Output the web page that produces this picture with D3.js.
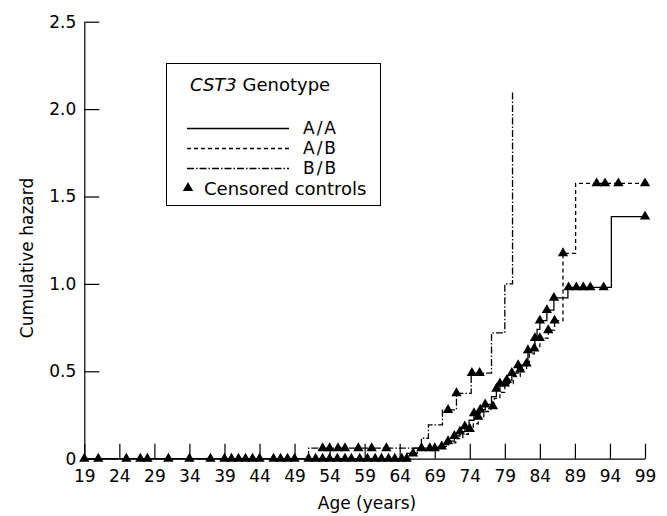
<!DOCTYPE html>
<html>
<head>
<meta charset="utf-8">
<script src="https://cdn.jsdelivr.net/npm/d3@7"></script>
<style>
  body { margin: 0; background: white; }
  text { font-family: "DejaVu Sans", sans-serif; }
</style>
</head>
<body>
<main></main>
<script>
// tick labels
const ageTicks = [19, 24, 29, 34, 39, 44, 49, 54, 59, 64, 69, 74, 79, 84, 89, 94, 99]
const hazardTicks = [0, 0.5, 1.0, 1.5, 2.0, 2.5]
const genotypes = ["A/A", "A/B", "B/B"]

// step curves: age where the step happens, cumulative hazard after it
const aaAge = [19, 65.0, 66.0, 70.0, 70.9, 71.8, 72.6, 73.3, 73.9, 74.6, 75.5, 76.2, 77.1, 77.8, 78.3, 79.3, 80.0, 80.9, 81.9, 82.3, 83.3, 83.6, 84.0, 85.0, 86.0, 88.0, 94.2, 99]
const aaHazard = [0, 0.03, 0.06, 0.08, 0.10, 0.13, 0.155, 0.185, 0.22, 0.26, 0.28, 0.31, 0.355, 0.40, 0.43, 0.45, 0.49, 0.535, 0.555, 0.62, 0.69, 0.74, 0.79, 0.85, 0.92, 0.98, 1.385, 1.385]

const abAge = [19, 65.5, 66.5, 69.5, 71.0, 72.0, 73.0, 73.8, 74.5, 75.2, 76.0, 77.0, 77.5, 78.3, 79.0, 80.2, 81.2, 82.1, 82.5, 83.2, 84.0, 85.2, 86.1, 87.3, 89.1, 99]
const abHazard = [0, 0.03, 0.05, 0.07, 0.09, 0.115, 0.14, 0.17, 0.2, 0.24, 0.27, 0.3, 0.345, 0.38, 0.43, 0.47, 0.51, 0.545, 0.6, 0.63, 0.69, 0.735, 0.79, 1.175, 1.575, 1.575]

const bbAge = [19, 51.0, 67.1, 68.1, 70.1, 72.1, 74.2, 77.1, 79.0, 80.1]
const bbHazard = [0, 0.06, 0.117, 0.193, 0.279, 0.374, 0.49, 0.72, 1.0, 2.1]

// censored controls (ages), drawn on their genotype's curve
const aaCensored = [19, 21, 25, 27, 28, 31, 34, 37, 39, 40, 41, 42, 43, 44, 46, 47, 48, 49, 51, 52, 55.1, 57.1, 59.4, 61.4, 63.3, 65.9, 67.1, 68.3, 69, 70.9, 71.8, 72.6, 73.3, 74.6, 75.5, 76.2, 77.8, 78.3, 79.3, 80.0, 80.9, 82.3, 83.3, 84, 85, 86.0, 88.1, 89.2, 90.2, 91.2, 93.1, 99]
const abCensored = [53, 54, 56.2, 58.3, 60.5, 62.4, 64.3, 65.0, 70, 74, 75.2, 77.3, 79.0, 81.2, 82.1, 83.2, 84.0, 85.2, 86.1, 87.3, 92.1, 93.3, 95.2, 99]
const bbCensored = [53, 54, 55.2, 56.2, 58.1, 60, 62.1, 70.9, 72.1, 74.3, 75.4]

//set dimensions
const svgWidth = 667
const svgHeight = 516
const plotLeft = 84.3, plotRight = 645
const plotTop = 21.7, plotBottom = 458.7

let svg = d3.select("main")
    .append("svg")
    .attr("width", svgWidth)
    .attr("height", svgHeight)

let xScale = d3.scaleLinear().domain([19, 99]).range([plotLeft, plotRight])
let yScale = d3.scaleLinear().domain([0, 2.5]).range([plotBottom, plotTop])

//axes, ticks point inwards
let xAxis = svg.append("g")
    .attr("transform", `translate(0, ${plotBottom})`)
    .call(d3.axisBottom(xScale).tickValues(ageTicks).tickSize(-15).tickSizeOuter(0).tickPadding(11).tickFormat(d3.format("d")))

let yAxis = svg.append("g")
    .attr("transform", `translate(${plotLeft}, 0)`)
    .call(d3.axisLeft(yScale).tickValues(hazardTicks).tickSize(-15).tickSizeOuter(0).tickPadding(8)
        .tickFormat(d => d === 0 ? "0" : d3.format(".1f")(d)))

svg.selectAll(".tick text")
    .style("font-size", "17px")
    .attr("fill", "black")
svg.selectAll(".domain, .tick line")
    .attr("stroke", "black")
    .attr("stroke-width", 1.2)

//axis titles
svg.append("text")
    .attr("x", 367)
    .attr("y", 509)
    .attr("text-anchor", "middle")
    .style("font-size", "17px")
    .text("Age (years)")

svg.append("text")
    .attr("transform", "translate(33, 258) rotate(-90)")
    .attr("text-anchor", "middle")
    .style("font-size", "17px")
    .text("Cumulative hazard")

//curves
let curves = [
    {ages: aaAge, hazard: aaHazard, censored: aaCensored, dash: null},
    {ages: abAge, hazard: abHazard, censored: abCensored, dash: "4,3"},
    {ages: bbAge, hazard: bbHazard, censored: bbCensored, dash: "7,2,1.5,2"}
]

let line = d3.line()
    .x(d => xScale(d[0]))
    .y(d => yScale(d[1]))
    .curve(d3.curveStepAfter)

curves.forEach(function (c) {
    svg.append("path")
        .datum(d3.zip(c.ages, c.hazard))
        .attr("d", line)
        .attr("fill", "none")
        .attr("stroke", "black")
        .attr("stroke-width", 1.3)
        .attr("stroke-dasharray", c.dash)
})

// hazard of a curve at a given age
function stepValue(c, age) {
    let i = d3.bisectRight(c.ages, age) - 1
    return c.hazard[Math.max(i, 0)]
}

let triangle = d3.symbol().type(d3.symbolTriangle).size(46)

curves.forEach(function (c) {
    svg.append("g")
        .selectAll("path")
        .data(c.censored)
        .enter()
        .append("path")
        .attr("d", triangle)
        .attr("transform", d => `translate(${xScale(d)}, ${yScale(stepValue(c, d))})`)
        .attr("fill", "black")
})

//legend
let legend = svg.append("g")

legend.append("rect")
    .attr("x", 166.5)
    .attr("y", 63.5)
    .attr("width", 214)
    .attr("height", 142)
    .attr("fill", "white")
    .attr("stroke", "black")
    .attr("stroke-width", 1)

let title = legend.append("text")
    .attr("x", 190)
    .attr("y", 91)
    .style("font-size", "18px")
title.append("tspan").style("font-style", "italic").text("CST3")
title.append("tspan").text(" Genotype")

legend.selectAll("line.key")
    .data(genotypes)
    .enter()
    .append("line")
    .attr("class", "key")
    .attr("x1", 187)
    .attr("x2", 289)
    .attr("y1", (d, i) => 128.5 + i * 20)
    .attr("y2", (d, i) => 128.5 + i * 20)
    .attr("stroke", "black")
    .attr("stroke-width", 1.3)
    .attr("stroke-dasharray", (d, i) => curves[i].dash)

legend.selectAll("text.key")
    .data(genotypes)
    .enter()
    .append("text")
    .attr("class", "key")
    .attr("x", 303)
    .attr("y", (d, i) => 134 + i * 20)
    .style("font-size", "17px")
    .style("letter-spacing", "2px")
    .text(d => d)

legend.append("path")
    .attr("d", triangle)
    .attr("transform", "translate(188, 188)")
legend.append("text")
    .attr("x", 204)
    .attr("y", 194.5)
    .style("font-size", "18px")
    .text("Censored controls")
</script>
</body>
</html>
